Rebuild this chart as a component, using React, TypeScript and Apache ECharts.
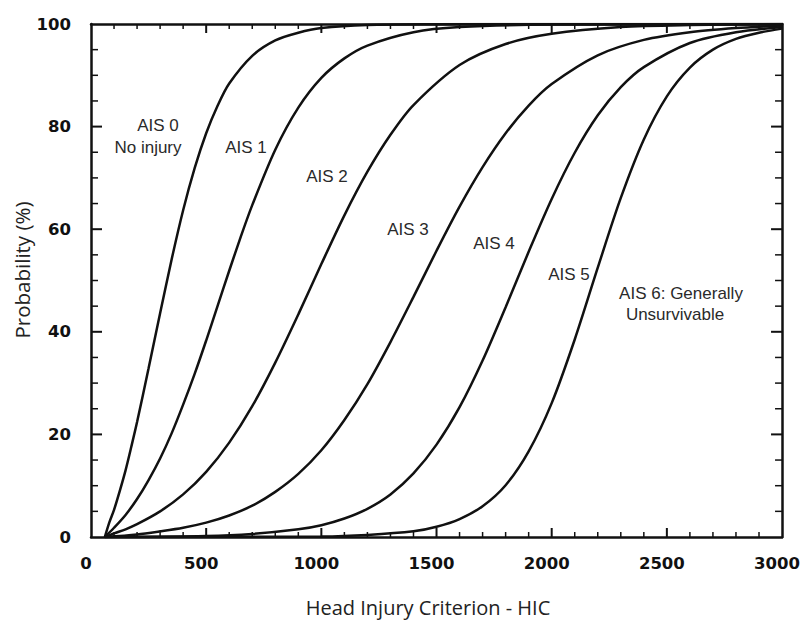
import React, { useEffect, useRef } from "react";
import * as echarts from "echarts";

// Probability (%) vs HIC
const curveAIS0: [number, number][] = [
  [60, 0], [80, 2.9], [100, 5.3], [125, 9], [150, 13], [175, 17.6], [200, 22.4], [250, 32.9],
  [300, 43.6], [350, 54.1], [400, 63.7], [450, 71.9], [500, 78.7], [550, 84.1], [600, 88.4],
  [700, 93.8], [800, 96.8], [900, 98.3], [1000, 99.2], [1200, 99.8], [1500, 99.95], [2000, 100],
  [3000, 100],
];
const curveAIS1: [number, number][] = [
  [60, 0], [100, 1.8], [150, 4.3], [200, 7.4], [250, 11.1], [300, 15.3], [350, 20.2], [400, 25.8],
  [450, 31.8], [500, 38.3], [550, 45.1], [600, 51.9], [650, 58.5], [700, 64.7], [800, 75.5],
  [900, 83.7], [1000, 89.5], [1100, 93.3], [1200, 95.8], [1400, 98.4], [1600, 99.4], [2000, 99.9],
  [3000, 100],
];
const curveAIS2: [number, number][] = [
  [60, 0], [100, 0.7], [150, 1.5], [200, 2.5], [300, 5], [400, 8.3], [500, 12.7], [600, 18.4],
  [700, 25.5], [800, 34], [900, 43.4], [1000, 53.2], [1100, 62.7], [1200, 71.2], [1300, 78.4],
  [1400, 84.2], [1600, 92], [1800, 96.1], [2000, 98.1], [2300, 99.4], [2600, 99.8], [3000, 100],
];
const curveAIS3: [number, number][] = [
  [60, 0], [200, 0.5], [300, 1.1], [400, 1.8], [500, 2.8], [600, 4.2], [700, 6.1], [800, 8.8],
  [900, 12.3], [1000, 16.9], [1100, 22.8], [1200, 29.8], [1300, 38], [1400, 46.8], [1500, 55.8],
  [1600, 64.4], [1700, 72.1], [1800, 78.7], [1900, 84.1], [2000, 88.3], [2200, 93.9], [2400, 96.9],
  [2600, 98.4], [2800, 99.2], [3000, 99.7],
];
const curveAIS4: [number, number][] = [
  [60, 0], [500, 0.2], [700, 0.6], [900, 1.5], [1000, 2.3], [1100, 3.6], [1200, 5.5], [1300, 8.3],
  [1400, 12.4], [1500, 18], [1600, 25.3], [1700, 34.4], [1800, 44.8], [1900, 55.6], [2000, 65.9],
  [2100, 74.9], [2200, 82.2], [2300, 87.7], [2400, 91.6], [2600, 96.3], [2800, 98.4], [3000, 99.4],
];
const curveAIS5: [number, number][] = [
  [60, 0], [1000, 0.1], [1200, 0.4], [1400, 1.1], [1500, 2], [1600, 3.5], [1700, 6], [1800, 10.1],
  [1900, 16.7], [2000, 26.1], [2100, 38.5], [2200, 52.5], [2300, 66.1], [2400, 77.5], [2500, 85.9],
  [2600, 91.5], [2700, 95], [2800, 97.1], [2900, 98.3], [3000, 99.1],
];
const curves = [curveAIS0, curveAIS1, curveAIS2, curveAIS3, curveAIS4, curveAIS5];

const xTicks = { min: 0, max: 3000, interval: 500, minorStep: 100 };
const yTicks = { min: 0, max: 100, interval: 20, minorStep: 5 };

const xName = "Head Injury Criterion - HIC";
const yName = "Probability (%)";

const annotations: { text: string; x: number; y: number }[] = [
  { text: "AIS 0", x: 158, y: 125 },
  { text: "No injury", x: 148, y: 147 },
  { text: "AIS 1", x: 246, y: 147 },
  { text: "AIS 2", x: 327, y: 176 },
  { text: "AIS 3", x: 408, y: 229 },
  { text: "AIS 4", x: 494, y: 243 },
  { text: "AIS 5", x: 569, y: 274 },
  { text: "AIS 6: Generally", x: 681, y: 293 },
  { text: "Unsurvivable", x: 675, y: 314 },
];

const INK = "#111";

function tickValues(t: { min: number; max: number; minorStep: number }) {
  const out: number[] = [];
  const n = Math.round((t.max - t.min) / t.minorStep);
  for (let i = 1; i < n; i++) out.push(t.min + i * t.minorStep);
  return out;
}

export default function App() {
  const ref = useRef<HTMLDivElement>(null);
  useEffect(() => {
    if (!ref.current) return;
    const chart = echarts.init(ref.current, null, { renderer: "svg" });
    const tickLabel = {
      fontFamily: "DejaVu Sans",
      fontWeight: "bold",
      fontSize: 16.5,
      color: INK,
      formatter: (v: number) => String(v),
    };
    const makeX = (position: "bottom" | "top", showLabel: boolean) => ({
      type: "value",
      position,
      min: xTicks.min,
      max: xTicks.max,
      interval: xTicks.interval,
      axisLine: { show: true, onZero: false, lineStyle: { color: INK, width: 2.5 } },
      axisTick: { show: false },
      splitLine: { show: false },
      axisLabel: showLabel
        ? { show: true, margin: 18, padding: [0, 10, 0, 0], ...tickLabel }
        : { show: false },
    });
    const makeY = (position: "left" | "right", showLabel: boolean) => ({
      type: "value",
      position,
      min: yTicks.min,
      max: yTicks.max,
      interval: yTicks.interval,
      axisLine: { show: true, onZero: false, lineStyle: { color: INK, width: 2.5 } },
      axisTick: { show: false },
      splitLine: { show: false },
      axisLabel: showLabel ? { show: true, margin: 20, ...tickLabel } : { show: false },
    });

    const xTickData = tickValues(xTicks).map((v) => [v, v % xTicks.interval === 0 ? 1 : 0]);
    const yTickData = tickValues(yTicks).map((v) => [v % yTicks.interval === 0 ? 1 : 0, v]);

    const xTickSeries = {
      type: "custom",
      silent: true,
      z: 5,
      clip: false,
      data: xTickData,
      renderItem: (_params: any, api: any) => {
        const v = api.value(0);
        const major = api.value(1) === 1;
        const len = major ? 9 : 5;
        const w = major ? 2 : 1.5;
        const b = api.coord([v, yTicks.min]);
        const t = api.coord([v, yTicks.max]);
        return {
          type: "group",
          children: [
            { type: "line", shape: { x1: b[0], y1: b[1], x2: b[0], y2: b[1] - len }, style: { stroke: INK, lineWidth: w } },
            { type: "line", shape: { x1: t[0], y1: t[1], x2: t[0], y2: t[1] + len }, style: { stroke: INK, lineWidth: w } },
          ],
        };
      },
    };
    const yTickSeries = {
      type: "custom",
      silent: true,
      z: 5,
      clip: false,
      data: yTickData,
      renderItem: (_params: any, api: any) => {
        const major = api.value(0) === 1;
        const v = api.value(1);
        const len = major ? 11 : 7;
        const w = major ? 2 : 1.5;
        const l = api.coord([xTicks.min, v]);
        const r = api.coord([xTicks.max, v]);
        return {
          type: "group",
          children: [
            { type: "line", shape: { x1: l[0], y1: l[1], x2: l[0] + len, y2: l[1] }, style: { stroke: INK, lineWidth: w } },
            { type: "line", shape: { x1: r[0], y1: r[1], x2: r[0] - len, y2: r[1] }, style: { stroke: INK, lineWidth: w } },
          ],
        };
      },
    };

    chart.setOption({
      animation: false,
      grid: { left: 91, right: 19, top: 24, bottom: 85 },
      xAxis: [makeX("bottom", true), makeX("top", false)],
      yAxis: [makeY("left", true), makeY("right", false)],
      series: [
        ...curves.map((c) => ({
          type: "line",
          xAxisIndex: 0,
          yAxisIndex: 0,
          data: c,
          smooth: 0.3,
          showSymbol: false,
          lineStyle: { color: INK, width: 2.5 },
          silent: true,
        })),
        xTickSeries,
        yTickSeries,
      ],
      graphic: [
        ...annotations.map((a) => ({
          type: "text",
          x: a.x,
          y: a.y,
          style: {
            text: a.text,
            fill: "#2a2a2a",
            font: "17px 'Liberation Sans', Arial, sans-serif",
            textAlign: "center",
            textVerticalAlign: "middle",
          },
        })),
        {
          type: "text",
          x: 428,
          y: 607,
          style: {
            text: xName,
            fill: "#222",
            font: "20px 'Open Sans', sans-serif",
            textAlign: "center",
            textVerticalAlign: "middle",
          },
        },
        {
          type: "text",
          x: 22,
          y: 270,
          rotation: Math.PI / 2,
          style: {
            text: yName,
            fill: "#222",
            font: "20.5px 'Open Sans', sans-serif",
            textAlign: "center",
            textVerticalAlign: "middle",
          },
        },
      ],
    });
    return () => chart.dispose();
  }, []);
  return (
    <div
      ref={ref}
      style={{ position: "fixed", left: 0, top: 0, width: 803, height: 622, background: "#fff" }}
    />
  );
}
